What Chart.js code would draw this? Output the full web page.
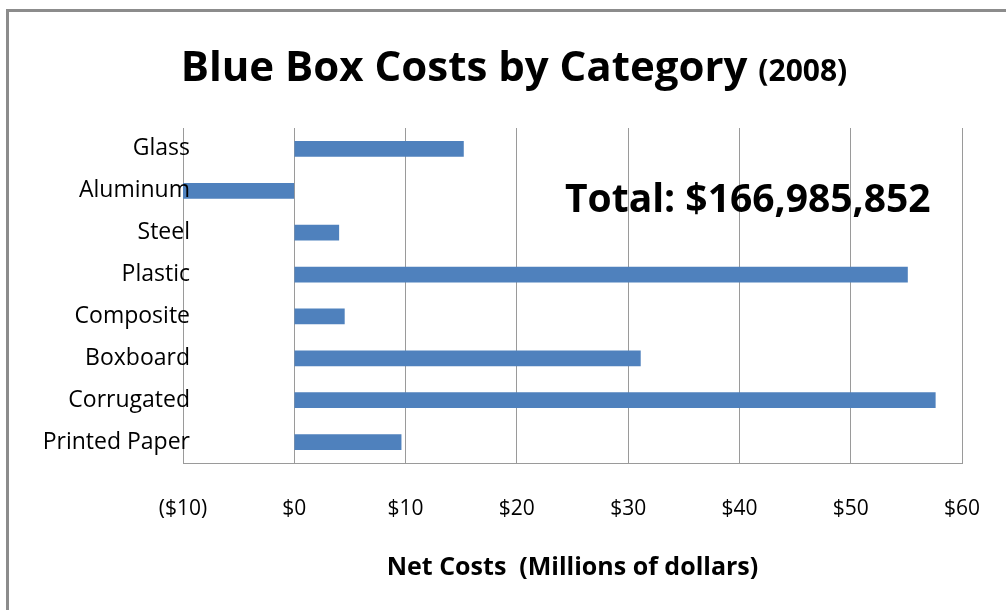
<!DOCTYPE html>
<html>
<head>
<meta charset="utf-8">
<script src="https://cdn.jsdelivr.net/npm/chart.js@4.4.1/dist/chart.umd.min.js"></script>
<style>
  body { margin: 0; background: #fff; }
  canvas { display: block; }
</style>
</head>
<body>
<canvas id="costChart" width="1006" height="610"></canvas>
<script>
var categories = ["Glass", "Aluminum", "Steel", "Plastic", "Composite", "Boxboard", "Corrugated", "Printed Paper"];
var netCosts = [15.2, -10.1, 4.0, 55.1, 4.5, 31.1, 57.6, 9.6];   // millions of dollars
var xTicks = [-10, 0, 10, 20, 30, 40, 50, 60];
var totalLabel = "Total: $166,985,852";

var FONT = "'Open Sans', sans-serif";
var gridGray = "#9a9a9a";

function money(v) {
  return v < 0 ? "($" + Math.abs(v) + ")" : "$" + v;
}

// frame, title, category labels and the total note, drawn on the canvas
var decorations = {
  id: 'decorations',
  beforeDraw: function(chart) {
    var c = chart.ctx;
    c.save();
    c.fillStyle = "#fff";
    c.fillRect(0, 0, chart.width, chart.height);
    c.strokeStyle = "#8c8c8c";
    c.lineWidth = 3;
    c.beginPath();
    c.moveTo(7.5, chart.height);
    c.lineTo(7.5, 10.5);
    c.lineTo(chart.width, 10.5);
    c.stroke();
    c.restore();
  },
  afterDraw: function(chart) {
    var c = chart.ctx;
    c.save();
    c.fillStyle = "#000";
    c.textBaseline = "alphabetic";
    var main = "Blue Box Costs by Category ";
    var sub = "(2008)";
    c.font = "bold 42px " + FONT;
    var w1 = c.measureText(main).width;
    c.font = "bold 30px " + FONT;
    var w2 = c.measureText(sub).width;
    var x0 = 514 - (w1 + w2) / 2;
    c.font = "bold 42px " + FONT;
    c.fillText(main, x0, 81);
    c.font = "bold 30px " + FONT;
    c.fillText(sub, x0 + w1, 81);

    c.font = "bold 39px " + FONT;
    c.fillText(totalLabel, 565, 212);

    // category labels sit right-aligned a little inside the plot's left edge
    var y = chart.scales.y;
    c.font = "23px " + FONT;
    c.textAlign = "right";
    c.textBaseline = "middle";
    categories.forEach(function(name, i) {
      c.fillText(name, y.right + 7, y.getPixelForTick(i));
    });
    c.restore();
  }
};

new Chart(document.getElementById("costChart"), {
  type: 'bar',
  data: {
    labels: categories,
    datasets: [{
      label: 'Net Costs',
      data: netCosts,
      backgroundColor: '#4f81bd',
      borderWidth: 0,
      barThickness: 15
    }]
  },
  options: {
    indexAxis: 'y',
    responsive: false,
    animation: false,
    layout: { padding: { left: 0, right: 44, top: 128, bottom: 27 } },
    plugins: {
      legend: { display: false },
      title: { display: false },
      tooltip: { enabled: false }
    },
    scales: {
      x: {
        min: xTicks[0],
        max: xTicks[xTicks.length - 1],
        afterBuildTicks: function(scale) {
          scale.ticks = xTicks.map(function(v) { return { value: v }; });
        },
        ticks: {
          callback: function(v) { return money(v); },
          padding: 33,
          color: '#000',
          font: { family: FONT, size: 21 },
          maxRotation: 0
        },
        grid: { color: gridGray, drawTicks: false },
        border: { color: gridGray },
        title: {
          display: true,
          text: 'Net Costs  (Millions of dollars)',
          color: '#000',
          font: { family: FONT, size: 25, weight: 'bold' },
          padding: 0
        },
        afterFit: function(scale) {
          scale.height = 120;
          scale.paddingLeft = 0;
          scale.paddingRight = 0;
        }
      },
      y: {
        ticks: { display: false },
        grid: { display: false, drawTicks: false },
        border: { color: gridGray },
        afterFit: function(scale) { scale.width = 183; }
      }
    }
  },
  plugins: [decorations]
});
</script>
</body>
</html>
